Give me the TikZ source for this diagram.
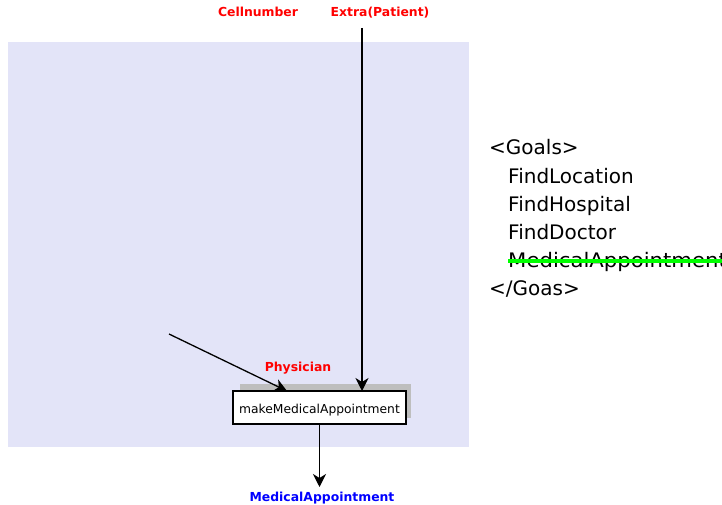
\documentclass[tikz,border=0pt]{standalone}
\usepackage{fontspec}
\setmainfont{DejaVu Sans}
\usetikzlibrary{arrows.meta}
\definecolor{panel}{RGB}{227,228,248}
\definecolor{shadowgray}{RGB}{190,190,190}
\definecolor{strikegreen}{RGB}{0,255,0}
\tikzset{
  inlabel/.style={font=\bfseries\fontsize{12.4}{14}\selectfont, text=red, inner sep=0pt, anchor=base},
  outlabel/.style={font=\bfseries\fontsize{12.4}{14}\selectfont, text=blue, inner sep=0pt, anchor=base},
  opbox/.style={draw=black, fill=white, line width=1.2pt, inner sep=0pt},
  optext/.style={inner sep=0pt, anchor=base, font=\fontsize{12.3}{14}\selectfont},
  goal/.style={anchor=base west, inner sep=0pt, font=\fontsize{20}{24}\selectfont},
  flow/.style={draw=black, line width=1.3pt, -{Stealth[length=13pt, width=13pt, inset=4pt]}}
}
\begin{document}
\begin{tikzpicture}[x=1pt, y=-1pt]
  \useasboundingbox (0,0) rectangle (722,505);
  \clip (0,0) rectangle (722,505);
  % process panel
  \fill[panel] (8,42) rectangle (469,447);
  % operation with its shadow
  \fill[shadowgray] (240,384) rectangle (411,418);
  \draw[opbox] (233,391) rectangle (406,424);
  \node[optext] (op) at (319.5,413) {makeMedicalAppointment};
  \coordinate (optop) at (319.5,391);
  \coordinate (opbottom) at (319.5,424);
  % inputs
  \node[inlabel] (cell) at (258,17) {Cellnumber};
  \node[inlabel] (extra) at (380,17) {Extra(Patient)};
  \node[inlabel] (phys) at (298,371) {Physician};
  \coordinate (extratail) at (362,28);
  \coordinate (extrahead) at (362,391);
  \coordinate (physsrc) at (169,334);
  \coordinate (physhead) at (287,391);
  \draw[flow] (extratail) -- (extrahead);
  \draw[flow] (physsrc) -- (physhead);
  % output
  \node[outlabel] (out) at (322,501.5) {MedicalAppointment};
  \coordinate (outhead) at (319.5,487);
  \draw[flow] (opbottom) -- (outhead);
  % goals list
  \node[goal] (g0) at (489,155) {<Goals>};
  \node[goal] (g1) at (508,183) {FindLocation};
  \node[goal] (g2) at (508,211) {FindHospital};
  \node[goal] (g3) at (508,239) {FindDoctor};
  \node[goal] (g4) at (508,267) {\scalebox{1.06}[1]{MedicalAppointment}};
  \node[goal] (g5) at (489,295.5) {</Goas>};
  \draw[strikegreen, line width=4pt] (508,261) -- (722,261);
\end{tikzpicture}
\end{document}
